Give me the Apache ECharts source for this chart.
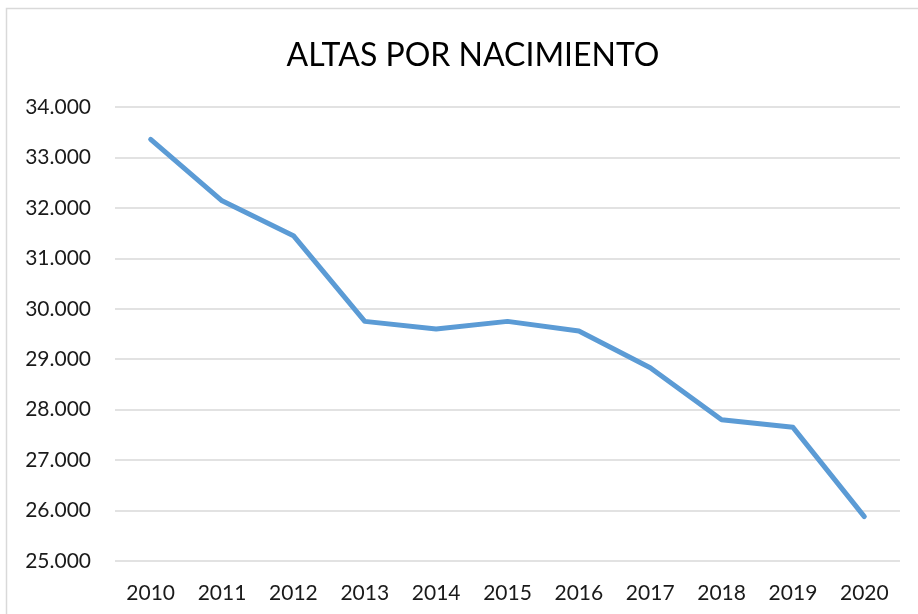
<!DOCTYPE html>
<html>
<head>
<meta charset="utf-8">
<script src="https://cdn.jsdelivr.net/npm/echarts@6/dist/echarts.min.js"></script>
<style>
  html, body { margin: 0; padding: 0; background: #fff; }
  #main { width: 918px; height: 614px; }
</style>
</head>
<body>
<div id="main"></div>
<script>
// datos
var years = ['2010', '2011', '2012', '2013', '2014', '2015', '2016', '2017', '2018', '2019', '2020'];
var altas = [33360, 32140, 31450, 29750, 29600, 29750, 29560, 28830, 27800, 27650, 25880];
var yMin = 25000, yMax = 34000, yStep = 1000;

function fmtMiles(v) {
  // 34000 -> 34.000
  return String(v).replace(/\B(?=(\d{3})+(?!\d))/g, '.');
}

var chart = echarts.init(document.getElementById('main'));
chart.setOption({
  animation: false,
  backgroundColor: '#fff',
  graphic: [{
    type: 'rect',
    shape: { x: 6.5, y: 8.5, width: 930, height: 620 },
    style: { fill: 'none', stroke: '#d9d9d9', lineWidth: 1.5 },
    silent: true
  }],
  title: {
    text: 'ALTAS POR NACIMIENTO',
    left: 468,
    textAlign: 'center',
    top: 35,
    textStyle: { fontFamily: 'Lato', fontSize: 32, fontWeight: 'normal', color: '#000' }
  },
  grid: { left: 115, right: 18, top: 107, bottom: 53, containLabel: false },
  xAxis: {
    type: 'category',
    data: years,
    boundaryGap: true,
    axisLine: { show: false },
    axisTick: { show: false },
    axisLabel: { fontFamily: 'Lato', fontSize: 21, color: '#1a1a1a', margin: 22 }
  },
  yAxis: {
    type: 'value',
    min: yMin,
    max: yMax,
    interval: yStep,
    axisLine: { show: false },
    axisTick: { show: false },
    axisLabel: { fontFamily: 'Lato', fontSize: 21, color: '#1a1a1a', margin: 24, formatter: fmtMiles },
    splitLine: { lineStyle: { color: '#d9d9d9', width: 1.5 } }
  },
  series: [{
    type: 'line',
    data: altas,
    showSymbol: false,
    symbol: 'none',
    lineStyle: { color: '#5b9bd5', width: 5, cap: 'round', join: 'round' }
  }]
});
</script>
</body>
</html>
